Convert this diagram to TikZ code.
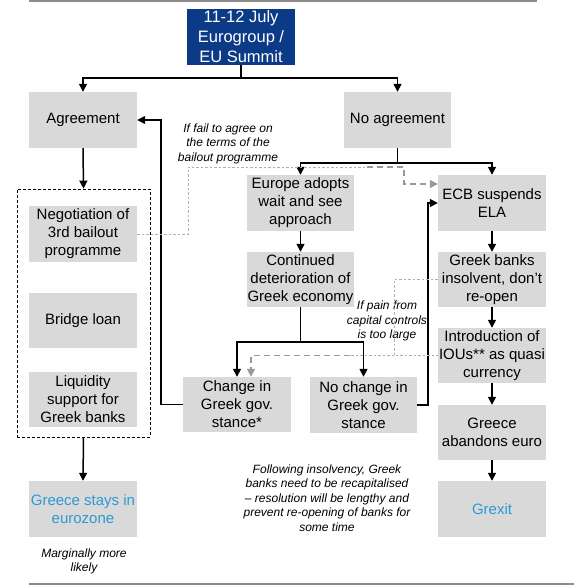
\documentclass[tikz,border=0pt]{standalone}
\usepackage{fontspec}
\setmainfont{Liberation Sans}
\usetikzlibrary{arrows.meta}
\definecolor{boxgray}{HTML}{D9D9D9}
\definecolor{navyblue}{HTML}{0B3A86}
\definecolor{linkblue}{HTML}{2C9AD6}
\definecolor{dashgray}{HTML}{999999}
\definecolor{dotgray}{HTML}{B0B0B0}
\definecolor{rulegray}{HTML}{8C8C8C}
\begin{document}
\begin{tikzpicture}[x=1pt,y=-1pt,
  box/.style={fill=boxgray, draw=none, align=center, inner sep=0pt,
    minimum width=108pt, minimum height=56pt, font=\fontsize{15}{18}\selectfont},
  titlebox/.style={fill=navyblue, text=white, align=center, inner sep=0pt,
    minimum width=108pt, minimum height=56pt, font=\fontsize{16.5}{20}\selectfont},
  note/.style={align=center, inner sep=0pt, font=\fontsize{12}{14.5}\selectfont\itshape},
  conn/.style={line width=1.5pt, black},
  arr/.style={conn, -{Triangle[length=8pt,width=8pt]}},
  dotline/.style={dotgray, line width=1pt, dash pattern=on 2.5pt off 2pt},
  dasharr/.style={dashgray, line width=1.6pt, dash pattern=on 6pt off 4pt,
    -{Triangle[length=8pt,width=8pt]}},
  ]
\useasboundingbox (0,0) rectangle (574,587);
\fill[white] (0,0) rectangle (574,587);

% rules
\draw[rulegray, line width=1.2pt] (29,1) -- (537,1);
\draw[rulegray, line width=1.2pt] (29,584) -- (574,584);

% nodes
\node[titlebox] (title) at (241,37) {11-12 July\\Eurogroup /\\EU Summit};
\node[box] (agree) at (83,120) {Agreement};
\node[box, minimum width=107pt] (noagree) at (397.5,120) {No agreement};

\node[draw, dashed, line width=0.8pt, dash pattern=on 3pt off 2pt,
  minimum width=133pt, minimum height=248pt, inner sep=0pt] (dbox) at (83.5,313) {};
\node[box] (nego) at (83,234) {Negotiation of\\3rd bailout\\programme};
\node[box, minimum height=55pt] (bridge) at (83,320.5) {Bridge loan};
\node[box, minimum height=55pt] (liq) at (83,399.5) {Liquidity\\support for\\Greek banks};
\node[box, text=linkblue] (stays) at (83,509) {Greece stays in\\eurozone};

\node[box, minimum width=107pt] (europe) at (300.5,203) {Europe adopts\\wait and see\\approach};
\node[box, minimum width=107pt, minimum height=55pt] (cont) at (300.5,279.5) {Continued\\deterioration of\\Greek economy};
\node[box, minimum height=55pt] (change) at (237,404.5) {Change in\\Greek gov.\\stance*};
\node[box, minimum width=107pt] (nochange) at (363.5,405) {No change in\\Greek gov.\\stance};

\node[box] (ecb) at (492,203) {ECB suspends\\ELA};
\node[box, minimum height=55pt] (banks) at (492,279.5) {Greek banks\\insolvent, don't\\re-open};
\node[box, minimum height=55pt] (iou) at (492,355.5) {Introduction of\\IOUs** as quasi\\currency};
\node[box, minimum height=55pt] (aband) at (492,432.5) {Greece\\abandons euro};
\node[box, text=linkblue] (grexit) at (492,509) {Grexit};

% notes
\node[note] (n1) at (228,143.5) {If fail to agree on\\the terms of the\\bailout programme};
\node[note] (n2) at (387,321) {If pain from\\capital controls\\is too large};
\node[note] (n3) at (327,498) {Following insolvency, Greek\\banks need to be recapitalised\\– resolution will be lengthy and\\prevent re-opening of banks for\\some time};
\node[note] (n4) at (84,561.5) {Marginally more\\likely};

% black connectors
\coordinate (s1) at (241,78);
\draw[conn] (title.south) -- (s1);
\draw[arr] (s1) -| (agree.north);
\draw[arr] (s1) -| (noagree.north);

\coordinate (s2) at (397.5,163);
\draw[conn] (noagree.south) -- (s2);
\draw[arr] (s2) -| (europe.north);
\draw[arr] (s2) -| (ecb.north);

\draw[arr] (agree.south) -- (dbox.north);
\draw[arr] (dbox.south) -- (stays.north);

\draw[arr] (europe.south) -- (cont.north);
\coordinate (s3) at (300.5,342);
\draw[conn] (cont.south) -- (s3);
\draw[arr] (s3) -| (change.north);
\draw[arr] (s3) -| (nochange.north);

\draw[arr] (change.west) -| ([xshift=24pt]agree.east) -- (agree.east);
\draw[arr] (nochange.east) -| ([xshift=-10pt]ecb.west) -- (ecb.west);

\draw[arr] (ecb.south) -- (banks.north);
\draw[arr] (banks.south) -- (iou.north);
\draw[arr] (iou.south) -- (aband.north);
\draw[arr] (aband.south) -- (grexit.north);

% grey dotted / dashed connectors
\coordinate (d1) at (188,167);
\coordinate (d2) at (367,167);
\draw[dotline] (nego.east) -| (d1) -- (d2);
\draw[dasharr] (d2) -| ([xshift=-34pt,yshift=19pt]ecb.west) -- ([yshift=19pt]ecb.west);

\coordinate (p1) at (394,279.5);
\coordinate (p2) at (394,355.5);
\coordinate (p3) at (350,355.5);
\draw[dotline] (banks.west) -- (p1) -- (p2) -- (iou.west);
\draw[dotline] (p2) -- (p3);
\draw[dasharr] (p3) -| ([xshift=14pt]change.north);
\end{tikzpicture}
\end{document}
